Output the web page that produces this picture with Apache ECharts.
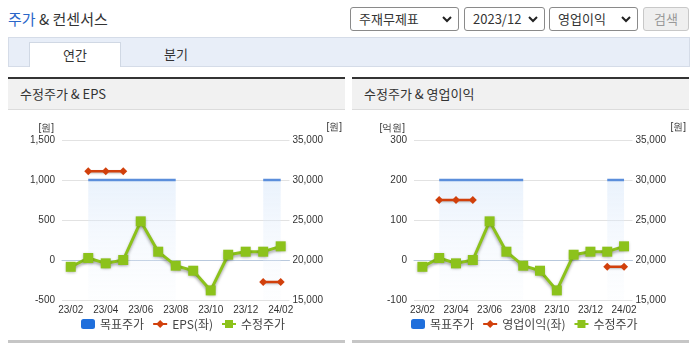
<!DOCTYPE html>
<html>
<head>
<meta charset="utf-8">
<script src="https://cdn.jsdelivr.net/npm/echarts@6/dist/echarts.min.js"></script>
<style>
body{margin:0;width:695px;height:349px;background:#fff;font-family:"Noto Sans CJK KR","Noto Sans",sans-serif;color:#333;position:relative;overflow:hidden}
.abs{position:absolute}
#title{left:8px;top:9px;font-size:15px;line-height:20px;color:#333}
#title b{font-weight:normal;color:#2a66c9}
.sel{position:absolute;top:7px;height:22px;border:1px solid #8a8a8a;border-radius:3px;font-size:13px;line-height:22px;padding-left:8px;box-sizing:content-box}
.sel svg{position:absolute;right:6px;top:7px}
#btn{left:643px;top:7px;width:44px;height:22px;border:1px solid #c8c8c8;border-radius:3px;background:#efefef;color:#999;font-size:13px;line-height:22px;text-align:center}
#tabs{left:8px;top:37px;width:680px;height:28px;background:#e8eef8;border:1px solid #d5dce8}
#tab1{left:29px;top:42px;width:90px;height:24px;background:#fff;border:1px solid #d0d8e4;border-bottom:none;font-size:13px;line-height:24px;text-align:center}
#tab2{left:140px;top:42px;width:72px;font-size:13px;line-height:24px;text-align:center}
.panel{position:absolute;top:77px;height:266px}
.phead{position:absolute;left:0;top:0;right:0;height:30px;border-top:2px solid #333;background:#f1f1f1;border-bottom:1px solid #dcdcdc;font-size:13px;line-height:30px;padding-left:12px}
.pfoot{position:absolute;left:0;right:0;bottom:0;height:3px;background:#c6c6c6}
.chart{position:absolute;left:0;top:33px;right:0;height:230px}
</style>
</head>
<body>
<div id="title" class="abs"><b>주가</b> &amp; 컨센서스</div>
<div class="sel" style="left:350px;width:99px">주재무제표<svg width="10" height="8" viewBox="0 0 10 8"><path d="M1 2 L5 6 L9 2" stroke="#222" stroke-width="2" fill="none"/></svg></div>
<div class="sel" style="left:464px;width:71px">2023/12<svg width="10" height="8" viewBox="0 0 10 8"><path d="M1 2 L5 6 L9 2" stroke="#222" stroke-width="2" fill="none"/></svg></div>
<div class="sel" style="left:549px;width:79px">영업이익<svg width="10" height="8" viewBox="0 0 10 8"><path d="M1 2 L5 6 L9 2" stroke="#222" stroke-width="2" fill="none"/></svg></div>
<div id="btn" class="abs">검색</div>
<div id="tabs" class="abs"></div>
<div id="tab1" class="abs">연간</div>
<div id="tab2" class="abs">분기</div>

<div class="panel" style="left:8px;width:337px">
  <div class="phead">수정주가 &amp; EPS</div>
  <div class="chart" id="c1"></div>
  <div class="pfoot"></div>
</div>
<div class="panel" style="left:352px;width:337px">
  <div class="phead">수정주가 &amp; 영업이익</div>
  <div class="chart" id="c2"></div>
  <div class="pfoot"></div>
</div>

<script>
const months = ['23/02','23/03','23/04','23/05','23/06','23/07','23/08','23/09','23/10','23/11','23/12','24/01','24/02'];
const targetPrice = [null,30000,30000,30000,30000,30000,30000,null,null,null,null,30000,30000];
const eps = [null,1110,1110,1110,null,null,null,null,null,null,null,-275,-275];
const opIncome = [null,150,150,150,null,null,null,null,null,null,null,-17,-17];
const adjPrice = [19150,20250,19580,20000,24830,21040,19290,18660,16200,20660,21040,21040,21710];

const leftTicks = {min:-500, max:1500, interval:500};
const opTicks = {min:-100, max:300, interval:100};
const priceTicks = {min:15000, max:35000, interval:5000};

const lblFont = {fontSize:10, color:'#333', fontFamily:'Liberation Sans'};

function makeOption(cfg) {
  return {
    animation:false,
    grid:{left:cfg.gridLeft, top:30, width:cfg.gridWidth, height:160},
    legend:{
      left:cfg.legendLeft, top:203, itemGap:8, itemWidth:14, itemHeight:10,
      textStyle:{fontSize:12, color:'#444', fontFamily:'Noto Sans CJK KR'},
      data:[{name:'목표주가', icon:'roundRect'}, cfg.barName, '수정주가']
    },
    xAxis:{
      type:'category', data:months, boundaryGap:true,
      axisLine:{lineStyle:{color:'#b9c9dd'}},
      axisTick:{length:4, lineStyle:{color:'#b9c9dd'}, interval:(i)=>i===0||(i%2===1&&i>1)},
      axisLabel:Object.assign({interval:1, margin:5}, lblFont),
      splitLine:{show:false}
    },
    yAxis:[
      Object.assign({type:'value', name:cfg.leftName, nameLocation:'end', nameGap:7,
        nameTextStyle:{fontSize:10, color:'#333', align:'right', padding:[0,cfg.leftNamePad,0,0]},
        axisLine:{show:false}, axisTick:{show:false},
        axisLabel:Object.assign({margin:7, formatter:(v)=>v.toLocaleString('en-US')}, lblFont),
        splitLine:{lineStyle:{color:'#e2e2e2'}}
      }, cfg.leftTicks),
      Object.assign({type:'value', name:'[원]', nameLocation:'end', nameGap:8,
        nameTextStyle:{fontSize:10, color:'#333', align:'left', padding:[0,0,0,cfg.rightNamePad]},
        axisLine:{show:false}, axisTick:{show:false},
        axisLabel:Object.assign({margin:3, formatter:(v)=>v.toLocaleString('en-US')}, lblFont),
        splitLine:{show:false}
      }, priceTicks)
    ],
    series:[
      {
        name:'목표주가', type:'line', yAxisIndex:1, data:targetPrice,
        showSymbol:false, z:1,
        itemStyle:{color:'#1f6fdc'},
        lineStyle:{color:'#5b8edb', width:2.5},
        areaStyle:{origin:'start', color:new echarts.graphic.LinearGradient(0,0,0,1,[
          {offset:0, color:'rgba(214,230,250,0.75)'},
          {offset:1, color:'rgba(240,246,253,0.2)'}
        ])}
      },
      {
        name:cfg.barName, type:'line', yAxisIndex:0, data:cfg.barData,
        symbol:'diamond', symbolSize:8, z:3,
        itemStyle:{color:'#d1400c'},
        lineStyle:{color:'#d1400c', width:2.5, shadowColor:'rgba(0,0,0,0.25)', shadowBlur:2, shadowOffsetY:1}
      },
      {
        name:'수정주가', type:'line', yAxisIndex:1, data:adjPrice,
        symbol:'rect', symbolSize:10, z:4,
        itemStyle:{color:'#8cc21b', shadowColor:'rgba(0,0,0,0.3)', shadowBlur:3, shadowOffsetY:1},
        lineStyle:{color:'#8cc21b', width:3, shadowColor:'rgba(0,0,0,0.35)', shadowBlur:3, shadowOffsetY:2}
      }
    ]
  };
}

const chart1 = echarts.init(document.getElementById('c1'));
chart1.setOption(makeOption({
  gridLeft:54, gridWidth:230, legendLeft:68,
  leftName:'[원]', leftNamePad:8, rightNamePad:37,
  leftTicks:leftTicks, barName:'EPS(좌)', barData:eps
}));

const chart2 = echarts.init(document.getElementById('c2'));
chart2.setOption(makeOption({
  gridLeft:62, gridWidth:222, legendLeft:54,
  leftName:'[억원]', leftNamePad:9, rightNamePad:38,
  leftTicks:opTicks, barName:'영업이익(좌)', barData:opIncome
}));
</script>
</body>
</html>
